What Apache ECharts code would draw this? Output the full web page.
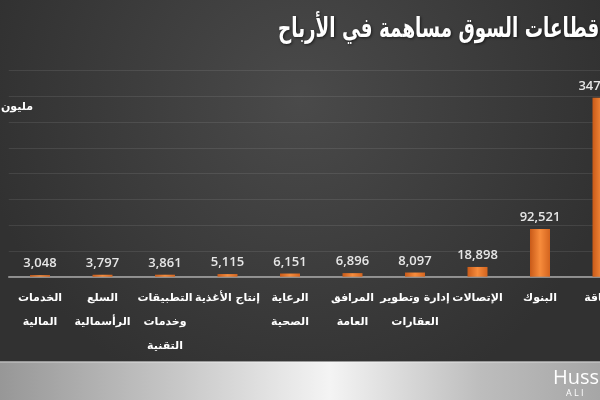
<!DOCTYPE html>
<html><head><meta charset="utf-8">
<script src="https://cdn.jsdelivr.net/npm/echarts@6/dist/echarts.min.js"></script>
<style>html,body{margin:0;padding:0;background:#3c3c3c}#c{width:600px;height:400px}</style>
</head><body><div id="c"></div>
<script>
const titleText = 'أكبر قطاعات السوق مساهمة في الأرباح';
const unitText = 'مليون ريال';
const categories = ['الخدمات\nالمالية','السلع\nالرأسمالية','التطبيقات\nوخدمات\nالتقنية','إنتاج الأغذية','الرعاية\nالصحية','المرافق\nالعامة','إدارة وتطوير\nالعقارات','الإتصالات','البنوك','الطاقة'];
const values = [3048, 3797, 3861, 5115, 6151, 6896, 8097, 18898, 92521, 347000];
const yTicks = {min: 0, max: 400000, interval: 50000};

const chart = echarts.init(document.getElementById('c'));
chart.setOption({
  backgroundColor: {type:'radial', x:0.5, y:0.25, r:0.8, colorStops:[{offset:0,color:'#4a4a4a'},{offset:1,color:'#313131'}]},
  animation: false,
  grid: {left: 8.75, width: 625, top: 70.5, bottom: 123.3, containLabel: false, outerBoundsMode: 'none'},
  xAxis: {
    type: 'category', data: categories,
    axisTick: {show: false},
    axisLine: {lineStyle: {color: '#aaaaaa', width: 1.5}},
    axisLabel: {interval: 0, color: '#ffffff', fontWeight: 'bold', fontSize: 11, lineHeight: 24, margin: 9, fontFamily: 'DejaVu Sans, sans-serif', hideOverlap: false}
  },
  yAxis: {
    type: 'value', min: yTicks.min, max: yTicks.max, interval: yTicks.interval,
    axisLabel: {show: false}, axisLine: {show: false}, axisTick: {show: false},
    splitLine: {lineStyle: {color: 'rgba(255,255,255,0.09)', width: 1}}
  },
  series: [{
    type: 'bar', data: values, barWidth: 20,
    itemStyle: {color: {type:'linear', x:0, y:0, x2:1, y2:0, colorStops:[{offset:0,color:'#c95a18'},{offset:0.5,color:'#f78c3c'},{offset:1,color:'#d4641e'}]}},
    label: {show: true, position: 'top', distance: 5, color: '#e6e6e6', fontSize: 13, fontWeight: 600, fontFamily: 'Open Sans, sans-serif',
      formatter: p => p.value.toLocaleString('en-US')}
  }],
  graphic: [
    {type:'rect', left:0, top:362, shape:{width:600, height:38}, silent:true,
     style:{fill:{type:'linear', x:0, y:0, x2:1, y2:0, colorStops:[{offset:0,color:'#979797'},{offset:0.3,color:'#c8c8c8'},{offset:0.55,color:'#f4f4f4'},{offset:0.8,color:'#bdbdbd'},{offset:1,color:'#a6a6a6'}]}}},
    {type:'rect', left:0, top:361, shape:{width:600, height:1.5}, silent:true, style:{fill:'rgba(255,255,255,0.5)'}},
    {type:'text', x:553, y:368, silent:true, style:{text:'Hussein', fill:'#ffffff', font:'20px Open Sans, sans-serif'}},
    {type:'text', x:566, y:389, silent:true, style:{text:'A L I', fill:'#ffffff', font:'9px Open Sans, sans-serif'}},
    {type:'text', x:278, y:30, scaleX:0.68, originX:0, originY:0, silent:true, style:{text:titleText, fill:'#ffffff', font:'bold 27px DejaVu Sans, sans-serif', textAlign:'left', textVerticalAlign:'middle', textShadowColor:'rgba(0,0,0,0.6)', textShadowBlur:3, textShadowOffsetX:1, textShadowOffsetY:1}},
    {type:'text', x:33, y:107, silent:true, style:{text:unitText, fill:'#ffffff', font:'bold 11px DejaVu Sans, sans-serif', textAlign:'right', textVerticalAlign:'middle'}}
  ]
});
</script></body></html>
